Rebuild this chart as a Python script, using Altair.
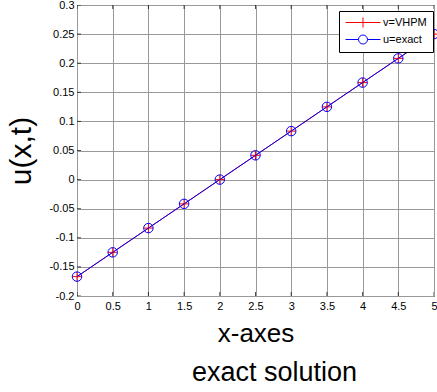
import altair as alt
import pandas as pd

x_vals = [0, 0.5, 1, 1.5, 2, 2.5, 3, 3.5, 4, 4.5, 5]
v_vhpm = [-0.1667, -0.125, -0.0833, -0.0417, 0.0, 0.0417, 0.0833, 0.125, 0.1667, 0.2083, 0.25]
u_exact = [-0.1667, -0.125, -0.0833, -0.0417, 0.0, 0.0417, 0.0833, 0.125, 0.1667, 0.2083, 0.25]
series_names = ["v=VHPM", "u=exact"]
series_colors = ["#ff0000", "#0000ff"]
x_ticks = [0, 0.5, 1, 1.5, 2, 2.5, 3, 3.5, 4, 4.5, 5]
y_ticks = [-0.2, -0.15, -0.1, -0.05, 0, 0.05, 0.1, 0.15, 0.2, 0.25, 0.3]

rows = []
for name, vals in zip(series_names, [v_vhpm, u_exact]):
    for xv, yv in zip(x_vals, vals):
        rows.append({"x": xv, "y": yv, "series": name})
df = pd.DataFrame(rows)

W, H = 357, 291
FONT = "Liberation Sans"

xscale = alt.Scale(domain=[0, 5], nice=False, zero=False)
yscale = alt.Scale(domain=[-0.2, 0.3], nice=False, zero=False)
color_scale = alt.Scale(domain=series_names, range=series_colors)
plus_path = "M-1,0H1M0,-1V1"

leg_plus = "M-1,0H6M2.5,-1V1"
leg_circ = "M-1,0H1.6M3.4,0H6M1.6,0A0.9,0.9 0 1,1 3.4,0A0.9,0.9 0 1,1 1.6,0"
shape_scale = alt.Scale(domain=series_names, range=[leg_plus, leg_circ])

xaxis = alt.Axis(values=x_ticks, labelExpr="'' + datum.value", title="x-axes",
                 grid=True, ticks=False, domain=False, labelPadding=4,
                 titlePadding=9, titleFontSize=26, titleFontWeight="normal",
                 labelFontSize=11, labelFlush=False, labelOverlap=False)
yaxis = alt.Axis(values=y_ticks, labelExpr="'' + datum.value", title="u(x,t)",
                 grid=True, ticks=False, domain=False, labelPadding=3,
                 titlePadding=12, titleFontSize=30, titleFontWeight="normal",
                 labelFontSize=11, labelFlush=False, labelOverlap=False)

X = alt.X("x:Q", scale=xscale, axis=xaxis)
Y = alt.Y("y:Q", scale=yscale, axis=yaxis)

base = alt.Chart(df)

red_line = base.transform_filter(alt.datum.series == "v=VHPM").mark_line(
    strokeWidth=1, color="#ff0000").encode(x=X, y=Y, order=alt.Order("x:Q"))
blue_line = base.transform_filter(alt.datum.series == "u=exact").mark_line(
    strokeWidth=1, color="#0000ff").encode(x=X, y=Y, order=alt.Order("x:Q"))

circles = base.transform_filter(alt.datum.series == "u=exact").mark_point(
    shape="circle", filled=False, size=90, strokeWidth=1, color="#0000ff", opacity=1).encode(x=X, y=Y)
pluses = base.transform_filter(alt.datum.series == "v=VHPM").mark_point(
    shape=plus_path, filled=False, size=90, strokeWidth=1, color="#ff0000", opacity=1).encode(x=X, y=Y)

legend = alt.Legend(
    title=None, orient="none", legendX=262, legendY=6,
    fillColor="white", strokeColor="black", padding=6,
    labelFontSize=11, labelFont=FONT, labelColor="black", labelOffset=27, rowPadding=3,
    symbolSize=100, symbolStrokeWidth=1, symbolOpacity=1,
)

legend_layer = base.mark_point(filled=False, opacity=0).encode(
    x=X, y=Y,
    color=alt.Color("series:N", scale=color_scale, legend=legend),
    shape=alt.Shape("series:N", scale=shape_scale, legend=legend),
)

xt = pd.DataFrame({"t": x_ticks})
yt = pd.DataFrame({"t": y_ticks})
tick_bottom = alt.Chart(xt).mark_tick(orient="vertical", size=8, thickness=1, color="black", clip=True).encode(
    x=alt.X("t:Q", scale=xscale, axis=xaxis), y=alt.value(H))
tick_top = alt.Chart(xt).mark_tick(orient="vertical", size=8, thickness=1, color="black", clip=True).encode(
    x=alt.X("t:Q", scale=xscale, axis=xaxis), y=alt.value(0))
tick_left = alt.Chart(yt).mark_tick(orient="horizontal", size=8, thickness=1, color="black", clip=True).encode(
    y=alt.Y("t:Q", scale=yscale, axis=yaxis), x=alt.value(0))

chart = alt.layer(red_line, pluses, blue_line, circles, legend_layer, tick_bottom, tick_top, tick_left).properties(
    width=W, height=H,
    autosize=alt.AutoSizeParams(type="none"),
    padding={"left": 77, "top": 5, "right": 3, "bottom": 96},
    title=alt.Title("exact solution", orient="bottom", fontSize=27, fontWeight="normal",
                    font=FONT, offset=14, dx=19, color="black"),
).configure(font=FONT).configure_view(stroke="black", strokeWidth=1).configure_axis(
    gridColor="#999999", gridOpacity=1, gridWidth=1, labelColor="black", titleColor="black",
    labelFont=FONT, titleFont=FONT,
).configure_legend(strokeWidth=1)

chart.save("out.html", embed_options={"renderer": "svg", "actions": False})
